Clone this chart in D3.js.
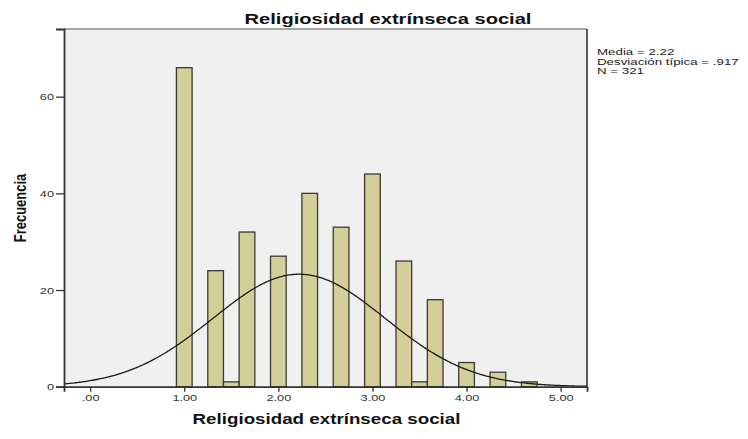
<!DOCTYPE html>
<html>
<head>
<meta charset="utf-8">
<script src="https://cdn.jsdelivr.net/npm/d3@7"></script>
<style>
  html, body { margin: 0; padding: 0; background: #ffffff; }
  svg { display: block; font-family: "Liberation Sans", Arial, sans-serif; }
</style>
</head>
<body>
<svg id="chart" width="748" height="439"></svg>
<script>
// ---- data ----
const title = "Religiosidad extrínseca social";
const xLabel = "Religiosidad extrínseca social";
const yLabel = "Frecuencia";
const binMids = [1.0, 1.3333, 1.5, 1.6667, 2.0, 2.3333, 2.6667, 3.0, 3.3333, 3.5, 3.6667, 4.0, 4.3333, 4.6667];
const counts  = [66, 24, 1, 32, 27, 40, 33, 44, 26, 1, 18, 5, 3, 1];
const binWidth = 1 / 6;
const xTicks = [0, 1, 2, 3, 4, 5];
const yTicks = [0, 20, 40, 60];
const statMean = 2.22;
const statSD = 0.917;
const statN = 321;
const legendLines = ["Media = 2.22", "Desviación típica = .917", "N = 321"];

// ---- layout ----
const svg = d3.select("#chart");
const pL = 64, pR = 587, pT = 29, pB = 386.7;
const sx = 1.34; // horizontal stretch of text in the reference

const x = d3.scaleLinear().domain([-0.278, 5.28]).range([pL, pR]);
const y = d3.scaleLinear().domain([0, 74]).range([pB, pT]);

// plot background
svg.append("rect")
  .attr("x", pL).attr("y", pT)
  .attr("width", pR - pL).attr("height", pB - pT)
  .attr("fill", "#f0f0f0");

// bars
svg.append("g").selectAll("rect")
  .data(binMids.map((m, i) => ({ m, c: counts[i] })))
  .join("rect")
  .attr("x", d => x(d.m - binWidth / 2))
  .attr("width", d => x(d.m + binWidth / 2) - x(d.m - binWidth / 2))
  .attr("y", d => y(d.c))
  .attr("height", d => y(0) - y(d.c))
  .attr("fill", "#d4cf98")
  .attr("stroke", "#3a3a32")
  .attr("stroke-width", 1.3);

// normal curve from the reported statistics
const scaleFactor = statN * binWidth / (statSD * Math.sqrt(2 * Math.PI));
const curvePts = d3.range(0, 401).map(i => {
  const xv = x.domain()[0] + (x.domain()[1] - x.domain()[0]) * i / 400;
  const z = (xv - statMean) / statSD;
  return [xv, scaleFactor * Math.exp(-0.5 * z * z)];
});
svg.append("path")
  .datum(curvePts)
  .attr("fill", "none")
  .attr("stroke", "#1a1a1a")
  .attr("stroke-width", 1.3)
  .attr("d", d3.line().x(d => x(d[0])).y(d => y(d[1])));

// frame: top and right
svg.append("line").attr("x1", pL).attr("x2", pR).attr("y1", pT).attr("y2", pT)
  .attr("stroke", "#8a8a8a").attr("stroke-width", 1.5);
svg.append("line").attr("x1", pR).attr("x2", pR).attr("y1", pT).attr("y2", pB)
  .attr("stroke", "#4a4a4a").attr("stroke-width", 1.8);

// axes
const xAxis = d3.axisBottom(x).tickValues(xTicks).tickFormat(d => d3.format(".2f")(d).replace(/^0/, "")).tickSize(5).tickPadding(3);
const yAxis = d3.axisLeft(y).tickValues(yTicks).tickFormat(d3.format("d")).tickSize(8).tickPadding(2);

const gx = svg.append("g").attr("transform", `translate(0,${pB})`).call(xAxis);
const gy = svg.append("g").attr("transform", `translate(${pL},0)`).call(yAxis);

[gx, gy].forEach(g => {
  g.select(".domain").attr("stroke", "#333333").attr("stroke-width", 1.8);
  g.selectAll(".tick line").attr("stroke", "#333333").attr("stroke-width", 1.3);
  g.selectAll(".tick text")
    .attr("fill", "#333333")
    .attr("font-size", "9.5px")
    .attr("font-family", "Liberation Sans, Arial, sans-serif");
});
// apply horizontal stretch to tick labels
gx.selectAll(".tick text").attr("transform", `scale(${sx},1)`);
gy.selectAll(".tick text").each(function () {
  const t = d3.select(this);
  const xx = +t.attr("x");
  t.attr("x", null).attr("transform", `translate(${xx},0) scale(${sx},1)`);
});

// stretched text helper
function stext(px, py, str, opts) {
  const k = opts.sx || sx;
  return svg.append("text")
    .attr("transform", `translate(${px},${py}) scale(${k},1)` + (opts.rotate ? ` rotate(${opts.rotate})` : ""))
    .attr("text-anchor", opts.anchor || "start")
    .attr("font-size", opts.size + "px")
    .attr("font-weight", opts.weight || "normal")
    .attr("fill", opts.fill || "#000")
    .text(str);
}

stext(388, 24, title, { size: 15, weight: "bold", anchor: "middle", fill: "#111" });
stext(326.5, 424, xLabel, { size: 14, weight: "bold", anchor: "middle", fill: "#111" });
stext(26, 208, yLabel, { size: 13, weight: "bold", anchor: "middle", rotate: -90, fill: "#111" });

legendLines.forEach((s, i) => {
  stext(597, 55 + i * 9.6, s, { size: 8.6, sx: 1.55, fill: "#222" });
});
</script>
</body>
</html>
